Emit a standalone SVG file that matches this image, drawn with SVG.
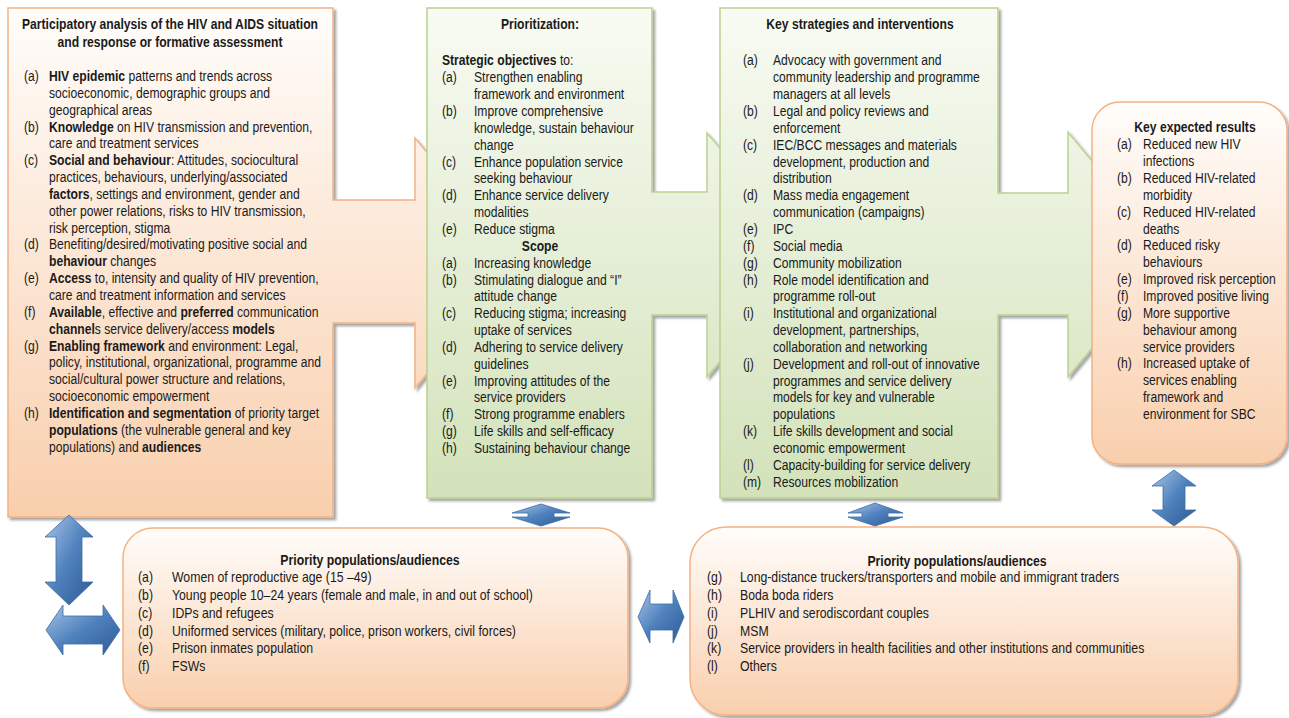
<svg xmlns="http://www.w3.org/2000/svg" width="1289" height="718" viewBox="0 0 1289 718">
<defs>
<linearGradient id="gOr" x1="0" y1="0" x2="0" y2="1"><stop offset="0" stop-color="#fffdfb"/><stop offset="1" stop-color="#f9cfad"/></linearGradient>
<linearGradient id="gGr" x1="0" y1="0" x2="0" y2="1"><stop offset="0" stop-color="#f8fbf3"/><stop offset="1" stop-color="#d3e2ba"/></linearGradient>
<linearGradient id="gBl" x1="0" y1="0" x2="1" y2="1"><stop offset="0" stop-color="#a9c5e8"/><stop offset="0.5" stop-color="#4f81bd"/><stop offset="1" stop-color="#2c5a92"/></linearGradient>
<filter id="sh" x="-5%" y="-5%" width="115%" height="115%"><feDropShadow dx="2.5" dy="2.5" stdDeviation="1.2" flood-color="#000" flood-opacity="0.35"/></filter>
<style>
.or{fill:url(#gOr);stroke:#f4b183;stroke-width:1.5;filter:url(#sh)}
.gr{fill:url(#gGr);stroke:#b9d18f;stroke-width:1.5;filter:url(#sh)}
.ar{fill:url(#gBl);stroke:#3b6ca6;stroke-width:0.8}
text{font-family:"Liberation Sans",Arial,sans-serif;font-size:14.7px;fill:#1a1a1a}
.b{font-weight:bold}
.c{text-anchor:middle}
</style>
</defs>

<g id="situation-analysis">
<path class="or" d="M8,8 H333 V200 H415 V138 L520,263 L415,388 V323 H333 V517 H8 Z"/>
<g transform="scale(0.825,1)">
<text class="b c" x="206.06" y="29.5">Participatory analysis of the HIV and AIDS situation</text>
<text class="b c" x="206.06" y="47.5">and response or formative assessment</text>
<text x="29.09" y="81">(a)</text><text x="59.39" y="81"><tspan class="b">HIV epidemic</tspan> patterns and trends across</text>
<text x="59.39" y="97.9">socioeconomic, demographic groups and</text>
<text x="59.39" y="114.7">geographical areas</text>
<text x="29.09" y="131.6">(b)</text><text x="59.39" y="131.6"><tspan class="b">Knowledge</tspan> on HIV transmission and prevention,</text>
<text x="59.39" y="148.4">care and treatment services</text>
<text x="29.09" y="165.3">(c)</text><text x="59.39" y="165.3"><tspan class="b">Social and behaviour</tspan>: Attitudes, sociocultural</text>
<text x="59.39" y="182.1">practices, behaviours, underlying/associated</text>
<text x="59.39" y="199"><tspan class="b">factors</tspan>, settings and environment, gender and</text>
<text x="59.39" y="215.8">other power relations, risks to HIV transmission,</text>
<text x="59.39" y="232.7">risk perception, stigma</text>
<text x="29.09" y="249.5">(d)</text><text x="59.39" y="249.5">Benefiting/desired/motivating positive social and</text>
<text x="59.39" y="266.4"><tspan class="b">behaviour</tspan> changes</text>
<text x="29.09" y="283.2">(e)</text><text x="59.39" y="283.2"><tspan class="b">Access</tspan> to, intensity and quality of HIV prevention,</text>
<text x="59.39" y="300.1">care and treatment information and services</text>
<text x="29.09" y="316.9">(f)</text><text x="59.39" y="316.9"><tspan class="b">Available</tspan>, effective and <tspan class="b">preferred</tspan> communication</text>
<text x="59.39" y="333.8"><tspan class="b">channel</tspan>s service delivery/access <tspan class="b">models</tspan></text>
<text x="29.09" y="350.6">(g)</text><text x="59.39" y="350.6"><tspan class="b">Enabling framework</tspan> and environment: Legal,</text>
<text x="59.39" y="367.5">policy, institutional, organizational, programme and</text>
<text x="59.39" y="384.3">social/cultural power structure and relations,</text>
<text x="59.39" y="401.2">socioeconomic empowerment</text>
<text x="29.09" y="418">(h)</text><text x="59.39" y="418"><tspan class="b">Identification and segmentation</tspan> of priority target</text>
<text x="59.39" y="434.9"><tspan class="b">populations</tspan> (the vulnerable general and key</text>
<text x="59.39" y="451.7">populations) and <tspan class="b">audiences</tspan></text>
</g>
</g>

<g id="prioritization">
<path class="gr" d="M427,8 H652 V192 H707 V133 L812,255 L707,377 V315 H652 V498 H427 Z"/>
<g transform="scale(0.825,1)">
<text class="b c" x="654.55" y="29.5">Prioritization:</text>
<text x="535.76" y="65.5"><tspan class="b">Strategic objectives</tspan> to:</text>
<text x="535.76" y="82.4">(a)</text><text x="574.55" y="82.4">Strengthen enabling</text>
<text x="574.55" y="99.2">framework and environment</text>
<text x="535.76" y="116.1">(b)</text><text x="574.55" y="116.1">Improve comprehensive</text>
<text x="574.55" y="132.9">knowledge, sustain behaviour</text>
<text x="574.55" y="149.8">change</text>
<text x="535.76" y="166.6">(c)</text><text x="574.55" y="166.6">Enhance population service</text>
<text x="574.55" y="183.5">seeking behaviour</text>
<text x="535.76" y="200.3">(d)</text><text x="574.55" y="200.3">Enhance service delivery</text>
<text x="574.55" y="217.2">modalities</text>
<text x="535.76" y="234">(e)</text><text x="574.55" y="234">Reduce stigma</text>
<text class="b c" x="654.55" y="250.9">Scope</text>
<text x="535.76" y="267.7">(a)</text><text x="574.55" y="267.7">Increasing knowledge</text>
<text x="535.76" y="284.6">(b)</text><text x="574.55" y="284.6">Stimulating dialogue and “I”</text>
<text x="574.55" y="301.4">attitude change</text>
<text x="535.76" y="318.3">(c)</text><text x="574.55" y="318.3">Reducing stigma; increasing</text>
<text x="574.55" y="335.1">uptake of services</text>
<text x="535.76" y="352">(d)</text><text x="574.55" y="352">Adhering to service delivery</text>
<text x="574.55" y="368.8">guidelines</text>
<text x="535.76" y="385.7">(e)</text><text x="574.55" y="385.7">Improving attitudes of the</text>
<text x="574.55" y="402.5">service providers</text>
<text x="535.76" y="419.4">(f)</text><text x="574.55" y="419.4">Strong programme enablers</text>
<text x="535.76" y="436.2">(g)</text><text x="574.55" y="436.2">Life skills and self-efficacy</text>
<text x="535.76" y="453.1">(h)</text><text x="574.55" y="453.1">Sustaining behaviour change</text>
</g>
</g>

<g id="strategies">
<path class="gr" d="M720,8 H998 V193 H1068 V132 L1170,255 L1068,377 V315 H998 V498 H720 Z"/>
<g transform="scale(0.825,1)">
<text class="b c" x="1042.42" y="29.5">Key strategies and interventions</text>
<text x="900.61" y="65.5">(a)</text><text x="936.97" y="65.5">Advocacy with government and</text>
<text x="936.97" y="82.4">community leadership and programme</text>
<text x="936.97" y="99.2">managers at all levels</text>
<text x="900.61" y="116.1">(b)</text><text x="936.97" y="116.1">Legal and policy reviews and</text>
<text x="936.97" y="132.9">enforcement</text>
<text x="900.61" y="149.8">(c)</text><text x="936.97" y="149.8">IEC/BCC messages and materials</text>
<text x="936.97" y="166.6">development, production and</text>
<text x="936.97" y="183.5">distribution</text>
<text x="900.61" y="200.3">(d)</text><text x="936.97" y="200.3">Mass media engagement</text>
<text x="936.97" y="217.2">communication (campaigns)</text>
<text x="900.61" y="234">(e)</text><text x="936.97" y="234">IPC</text>
<text x="900.61" y="250.9">(f)</text><text x="936.97" y="250.9">Social media</text>
<text x="900.61" y="267.7">(g)</text><text x="936.97" y="267.7">Community mobilization</text>
<text x="900.61" y="284.6">(h)</text><text x="936.97" y="284.6">Role model identification and</text>
<text x="936.97" y="301.4">programme roll-out</text>
<text x="900.61" y="318.3">(i)</text><text x="936.97" y="318.3">Institutional and organizational</text>
<text x="936.97" y="335.1">development, partnerships,</text>
<text x="936.97" y="352">collaboration and networking</text>
<text x="900.61" y="368.8">(j)</text><text x="936.97" y="368.8">Development and roll-out of innovative</text>
<text x="936.97" y="385.7">programmes and service delivery</text>
<text x="936.97" y="402.5">models for key and vulnerable</text>
<text x="936.97" y="419.4">populations</text>
<text x="900.61" y="436.2">(k)</text><text x="936.97" y="436.2">Life skills development and social</text>
<text x="936.97" y="453.1">economic empowerment</text>
<text x="900.61" y="469.9">(l)</text><text x="936.97" y="469.9">Capacity-building for service delivery</text>
<text x="900.61" y="486.8">(m)</text><text x="936.97" y="486.8">Resources mobilization</text>
</g>
</g>

<g id="results">
<rect class="or" x="1092" y="102" width="195" height="362" rx="28"/>
<g transform="scale(0.825,1)">
<text class="b c" x="1448.48" y="132.5">Key expected results</text>
<text x="1353.94" y="149.4">(a)</text><text x="1385.45" y="149.4">Reduced new HIV</text>
<text x="1385.45" y="166.3">infections</text>
<text x="1353.94" y="183.1">(b)</text><text x="1385.45" y="183.1">Reduced HIV-related</text>
<text x="1385.45" y="200">morbidity</text>
<text x="1353.94" y="216.8">(c)</text><text x="1385.45" y="216.8">Reduced HIV-related</text>
<text x="1385.45" y="233.7">deaths</text>
<text x="1353.94" y="250.5">(d)</text><text x="1385.45" y="250.5">Reduced risky</text>
<text x="1385.45" y="267.4">behaviours</text>
<text x="1353.94" y="284.2">(e)</text><text x="1385.45" y="284.2">Improved risk perception</text>
<text x="1353.94" y="301.1">(f)</text><text x="1385.45" y="301.1">Improved positive living</text>
<text x="1353.94" y="317.9">(g)</text><text x="1385.45" y="317.9">More supportive</text>
<text x="1385.45" y="334.8">behaviour among</text>
<text x="1385.45" y="351.6">service providers</text>
<text x="1353.94" y="368.5">(h)</text><text x="1385.45" y="368.5">Increased uptake of</text>
<text x="1385.45" y="385.3">services enabling</text>
<text x="1385.45" y="402.2">framework and</text>
<text x="1385.45" y="419">environment for SBC</text>
</g>
</g>

<g id="priority-populations-1">
<rect class="or" x="123" y="528" width="505" height="180" rx="30"/>
<g transform="scale(0.835,1)">
<text class="b c" x="443.11" y="565">Priority populations/audiences</text>
<text x="165.27" y="582.5">(a)</text><text x="205.99" y="582.5">Women of reproductive age (15 –49)</text>
<text x="165.27" y="600.2">(b)</text><text x="205.99" y="600.2">Young people 10–24 years (female and male, in and out of school)</text>
<text x="165.27" y="617.9">(c)</text><text x="205.99" y="617.9">IDPs and refugees</text>
<text x="165.27" y="635.6">(d)</text><text x="205.99" y="635.6">Uniformed services (military, police, prison workers, civil forces)</text>
<text x="165.27" y="653.3">(e)</text><text x="205.99" y="653.3">Prison inmates population</text>
<text x="165.27" y="671">(f)</text><text x="205.99" y="671">FSWs</text>
</g>
</g>

<g id="priority-populations-2">
<rect class="or" x="690" y="527" width="548" height="188" rx="36"/>
<g transform="scale(0.835,1)">
<text class="b c" x="1146.11" y="566">Priority populations/audiences</text>
<text x="846.71" y="582.5">(g)</text><text x="886.23" y="582.5">Long-distance truckers/transporters and mobile and immigrant traders</text>
<text x="846.71" y="600.2">(h)</text><text x="886.23" y="600.2">Boda boda riders</text>
<text x="846.71" y="617.9">(i)</text><text x="886.23" y="617.9">PLHIV and serodiscordant couples</text>
<text x="846.71" y="635.6">(j)</text><text x="886.23" y="635.6">MSM</text>
<text x="846.71" y="653.3">(k)</text><text x="886.23" y="653.3">Service providers in health facilities and other institutions and communities</text>
<text x="846.71" y="671">(l)</text><text x="886.23" y="671">Others</text>
</g>
</g>

<g id="connectors">
<path class="ar" d="M69,515 L93,537 L82,537 L82,582 L93,582 L69,605 L45,582 L56,582 L56,537 L45,537 Z"/>
<path class="ar" d="M46,630 L63,605 L63,616 L103,616 L103,605 L120,630 L103,655 L103,644 L63,644 L63,655 Z"/>
<path class="ar" d="M541,504 L570,513 L554,513 L554,517 L570,517 L541,526 L512,517 L528,517 L528,513 L512,513 Z"/>
<path class="ar" d="M875,503 L903,513 L888,513 L888,517 L903,517 L875,526 L848,517 L862,517 L862,513 L848,513 Z"/>
<path class="ar" d="M1174,470 L1196,486 L1185,486 L1185,510 L1196,510 L1174,526 L1152,510 L1163,510 L1163,486 L1152,486 Z"/>
<path class="ar" d="M638,617 L650,590 L650,604 L673,604 L673,590 L684,617 L673,643 L673,630 L650,630 L650,643 Z"/>
</g>
</svg>
